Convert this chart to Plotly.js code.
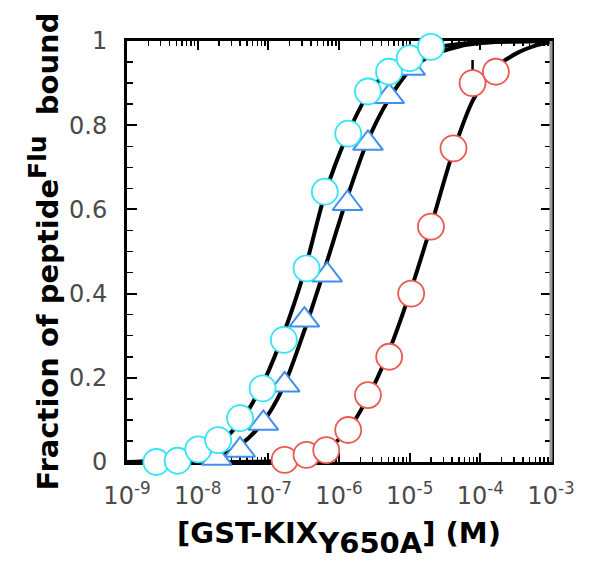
<!DOCTYPE html>
<html>
<head>
<meta charset="utf-8">
<script src="https://cdn.plot.ly/plotly-3.0.1.min.js"></script>
<style>html,body{margin:0;padding:0;background:#fff;}</style>
</head>
<body>
<div id="chart" style="width:600px;height:583px;"></div>
<script>
// Measured data points (concentration in M, fraction bound)
const cyanX = [2.6e-9, 5.2e-9, 1.02e-8, 1.95e-8, 3.98e-8, 8.3e-8, 1.66e-7, 3.47e-7, 6.3e-7, 1.35e-6, 2.57e-6, 5.1e-6, 1.0e-5, 2.0e-5];
const cyanY = [0.0, 0.003, 0.03, 0.052, 0.104, 0.175, 0.29, 0.46, 0.642, 0.78, 0.88, 0.927, 0.959, 0.986];

const triX = [1.86e-8, 3.98e-8, 8.5e-8, 1.7e-7, 3.24e-7, 6.8e-7, 1.32e-6, 2.57e-6, 5.13e-6, 1.02e-5];
const triY = [0.009, 0.028, 0.092, 0.183, 0.337, 0.444, 0.614, 0.757, 0.868, 0.935];

const redX = [1.7e-7, 3.47e-7, 6.6e-7, 1.35e-6, 2.57e-6, 5.13e-6, 1.05e-5, 2.0e-5, 4.17e-5, 7.76e-5, 1.66e-4];
const redY = [0.005, 0.017, 0.028, 0.076, 0.159, 0.25, 0.40, 0.559, 0.745, 0.90, 0.927];
const redErr = [0, 0, 0, 0, 0, 0, 0, 0, 0, 0.055, 0];

// Fitted curves
const cyanFitX = [1e-9, 2.5e-9, 5e-9, 1e-8, 2e-8, 4e-8, 8e-8, 1.6e-7, 3.2e-7, 6.3e-7, 1.26e-6, 2.5e-6, 5e-6, 1e-5, 2e-5, 5e-5, 1e-4, 3e-4, 1e-3];
const cyanFitY = [0, 0.003, 0.008, 0.02, 0.045, 0.095, 0.18, 0.30, 0.45, 0.635, 0.77, 0.87, 0.93, 0.965, 0.983, 0.993, 0.997, 0.999, 1.0];

const triFitX = [1e-9, 1e-8, 1.6e-8, 2.5e-8, 4e-8, 8e-8, 1.6e-7, 3.2e-7, 6.3e-7, 1.26e-6, 2.5e-6, 5e-6, 1e-5, 2e-5, 5e-5, 1e-4, 3e-4, 1e-3];
const triFitY = [0, 0.002, 0.006, 0.02, 0.04, 0.09, 0.175, 0.31, 0.46, 0.62, 0.76, 0.86, 0.93, 0.965, 0.987, 0.995, 0.999, 1.0];

const redFitX = [1e-9, 3.2e-8, 1e-7, 1.6e-7, 3.2e-7, 6.3e-7, 1.26e-6, 2.5e-6, 5e-6, 1e-5, 2e-5, 4e-5, 7.9e-5, 1.6e-4, 3.2e-4, 6.3e-4, 1e-3];
const redFitY = [0, 0, 0.001, 0.004, 0.012, 0.03, 0.07, 0.15, 0.26, 0.40, 0.56, 0.73, 0.86, 0.935, 0.97, 0.99, 0.998];

// Axis ticks
const xTickVals = [1e-9, 1e-8, 1e-7, 1e-6, 1e-5, 1e-4, 1e-3];
const xTickText = ['10<sup>-9</sup>', '10<sup>-8</sup>', '10<sup>-7</sup>', '10<sup>-6</sup>', '10<sup>-5</sup>', '10<sup>-4</sup>', '10<sup>-3</sup>'];
const xMinorVals = [];
for (let e = -9; e < -3; e++) { for (let m = 2; m <= 9; m++) xMinorVals.push(m * Math.pow(10, e)); }

const cyanColor = '#35e4f6';
const blueColor = '#3f8fee';
const redColor = '#ea5a50';

const fitLine = {color: 'black', width: 4, shape: 'spline', smoothing: 0.8};

const traces = [
  {x: redFitX, y: redFitY, mode: 'lines', line: fitLine, cliponaxis: false, hoverinfo: 'skip'},
  {x: triFitX, y: triFitY, mode: 'lines', line: fitLine, cliponaxis: false, hoverinfo: 'skip'},
  {x: cyanFitX, y: cyanFitY, mode: 'lines', line: fitLine, cliponaxis: false, hoverinfo: 'skip'},
  {x: triX, y: triY, mode: 'markers', cliponaxis: false,
   marker: {symbol: 'triangle-up', size: 26, color: 'white', line: {color: blueColor, width: 2}}},
  {x: redX, y: redY, mode: 'markers', cliponaxis: false,
   error_y: {type: 'data', array: redErr, arrayminus: redErr.map(() => 0), symmetric: false, color: 'black', thickness: 2.5, width: 0},
   marker: {symbol: 'circle', size: 26, color: 'white', line: {color: redColor, width: 1.8}}},
  {x: cyanX, y: cyanY, mode: 'markers', cliponaxis: false,
   marker: {symbol: 'circle', size: 26, color: 'white', line: {color: cyanColor, width: 1.8}}}
];

const tickFont = {family: 'DejaVu Sans', size: 24, color: '#4a4a4a'};
const titleFont = {family: 'DejaVu Sans', size: 29, color: 'black', weight: 'bold'};

const layout = {
  width: 600, height: 583,
  margin: {l: 127, r: 49, t: 41, b: 121, pad: 0},
  paper_bgcolor: 'white', plot_bgcolor: 'white',
  showlegend: false,
  xaxis: {
    type: 'log', range: [-9, -3],
    tickmode: 'array', tickvals: xTickVals, ticktext: xTickText,
    ticks: 'inside', ticklen: 9, tickwidth: 2, tickcolor: 'black',
    minor: {tickmode: 'array', tickvals: xMinorVals, ticks: 'inside', ticklen: 5, tickwidth: 1.5, tickcolor: 'black', showgrid: false},
    showline: true, linecolor: 'black', linewidth: 3, mirror: 'ticks',
    showgrid: false, zeroline: false, layer: 'below traces',
    tickfont: tickFont, ticklabelstandoff: 10,
    title: {text: '[GST-KIX<sub><sub><span style="font-size:29px">Y650A</span></sub></sub>] (M)', font: titleFont, standoff: 14}
  },
  yaxis: {
    range: [0, 1], tickmode: 'linear', tick0: 0, dtick: 0.2,
    ticks: 'inside', ticklen: 10, tickwidth: 2, tickcolor: 'black',
    minor: {dtick: 0.05, ticks: 'inside', ticklen: 6, tickwidth: 1.5, tickcolor: 'black', showgrid: false},
    showline: true, linecolor: 'black', linewidth: 3, mirror: 'ticks',
    showgrid: false, zeroline: false, layer: 'below traces',
    tickfont: tickFont, ticklabelstandoff: 12,
    title: {text: 'Fraction of peptide<sup><span style="font-size:25px">Flu</span></sup>&nbsp; bound', font: titleFont, standoff: 2}
  },
  shapes: [
    {type: 'line', xref: 'paper', yref: 'paper', x0: 1, x1: 1, y0: 0, y1: 1, line: {color: '#9a9a9a', width: 3}, layer: 'above'}
  ]
};

Plotly.newPlot('chart', traces, layout, {displayModeBar: false, staticPlot: true});
</script>
</body>
</html>
